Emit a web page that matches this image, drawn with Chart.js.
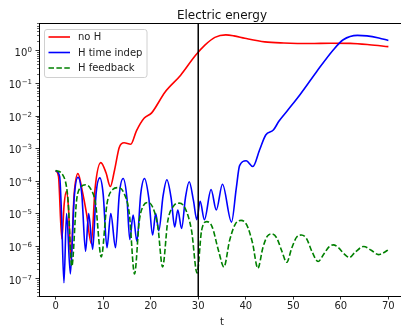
<!DOCTYPE html>
<html>
<head>
<meta charset="utf-8">
<script src="https://cdn.jsdelivr.net/npm/chart.js@4/dist/chart.umd.min.js"></script>
<style>
  html, body { margin: 0; padding: 0; background: #fff; overflow: hidden; }
  canvas { display: block; }
</style>
</head>
<body>
<canvas id="energyChart" width="406" height="325"></canvas>
<script>
// time axis ticks and log-axis decades
var xTicks = [0, 10, 20, 30, 40, 50, 60, 70];
var yDecades = [-7, -6, -5, -4, -3, -2, -1, 0];
var xMin = -3.5, xMax = 73.5;
var yMin = 2.95e-8, yMax = 7.2;
var tMark = 30; // vertical marker

// no H
var tRed = [0, 0.6, 1.3, 1.8, 2.25, 2.7, 3.2, 3.9, 4.7, 5.6, 6.5, 7.5, 8.3, 9.5, 10.6, 11.5, 12.4,
    13.4, 14.4, 15.8, 17.0, 18.6, 20.2, 23.0, 26.3, 29.4, 31.4, 33.5, 35.8, 37.5, 39.8, 44, 48,
    53.5, 58, 62, 66, 70];
var eRed = [2.1e-4, 1.4e-4, 1.7e-6, 2e-5, 4.8e-5, 1.5e-5, 4e-7, 4e-5, 1.7e-4, 5e-5, 1e-5, 1.2e-6, 6e-5,
    3.7e-4, 1.8e-4, 6.8e-5, 2.2e-4, 1.1e-3, 1.5e-3, 1.35e-3, 3.5e-3, 8.5e-3, 1.25e-2, 5.4e-2, 0.18,
    0.72, 1.5, 2.6, 3.1, 2.9, 2.45, 1.9, 1.75, 1.68, 1.72, 1.7, 1.55, 1.35];

// H time indep
var tBlue = [0, 0.84, 1.26, 1.75, 2.3, 3.1, 3.9, 4.7, 5.5, 6.3, 6.95, 7.8, 8.5, 9.3, 10.0, 10.8, 11.6,
    12.6, 13.4, 14.2, 15.0, 15.6, 16.3, 17.1, 17.9, 18.7, 19.6, 20.4, 21.05, 21.7, 22.6, 23.4, 24.3,
    25.05, 25.7, 26.5, 27.3, 28.1, 29.0, 29.7, 30.4, 31.3, 32.7, 33.8, 35.1, 37.0, 38.0, 38.7, 40.1,
    41.5, 42.9, 44.2, 45.8, 47.0, 48.9, 51.4, 54.9, 58.4, 60.5, 63.5, 65.5, 68, 70];
var eBlue = [2.1e-4, 1.4e-4, 8e-6, 7.5e-8, 1e-5, 1.4e-7, 3e-5, 1.3e-4, 4e-5, 7e-7, 1e-5, 8e-7, 4e-5,
    1.26e-4, 4e-5, 9e-7, 1e-5, 9e-7, 4e-5, 1.2e-4, 3e-5, 1.6e-6, 9e-6, 1.4e-6, 4e-5, 1.2e-4, 3e-5,
    2.2e-6, 1e-5, 3e-6, 3.5e-5, 1.1e-4, 3e-5, 3.9e-6, 1.3e-5, 3.5e-6, 3e-5, 9.5e-5, 2.5e-5, 6.5e-6,
    2.4e-5, 6.5e-6, 5.5e-5, 1.3e-5, 8e-5, 5.5e-6, 6e-5, 3e-4, 4.2e-4, 2.8e-4, 9e-4, 2.6e-3, 3.7e-3,
    7e-3, 1.55e-2, 4.5e-2, 0.23, 1.07, 2.2, 3.0, 2.9, 2.5, 2.1];

// H feedback
var tGreen = [0, 1.5, 2.6, 3.4, 4.4, 5.3, 6.3, 7.3, 8.4, 9.6, 10.8, 12.0, 13.1, 14.3, 15.5, 16.6, 17.6,
    18.5, 19.4, 20.4, 21.5, 22.5, 23.6, 24.8, 26.0, 27.2, 28.6, 29.75, 30.7, 31.8, 32.9, 34.3, 35.4,
    36.6, 37.8, 39.0, 40.2, 41.4, 42.55, 43.6, 44.5, 45.5, 46.5, 47.6, 48.6, 49.7, 50.7, 51.7, 52.8,
    53.9, 55.2, 56.5, 57.5, 58.4, 59.5, 60.7, 61.8, 63, 64.8, 66.4, 67.9, 69, 70];
var eGreen = [2.1e-4, 1.55e-4, 2.7e-5, 2.4e-7, 2.5e-5, 6.5e-5, 7.7e-5, 6e-5, 2e-5, 4.7e-7, 2e-5, 5.5e-5,
    6.3e-5, 4.5e-5, 1e-5, 1.4e-7, 6e-6, 1.8e-5, 2.2e-5, 1.6e-5, 4e-6, 2.3e-7, 6e-6, 1.7e-5, 2.1e-5,
    1.5e-5, 3e-6, 1.5e-7, 3e-6, 5.7e-6, 4e-6, 7e-7, 2.3e-7, 1.5e-6, 4.8e-6, 6.2e-6, 4.5e-6, 1.3e-6,
    2.1e-7, 9e-7, 2e-6, 2.4e-6, 1.8e-6, 7e-7, 3.2e-7, 9e-7, 1.9e-6, 2.2e-6, 1.7e-6, 7e-7, 3.4e-7,
    6e-7, 9.5e-7, 1.1e-6, 9e-7, 5.8e-7, 4.5e-7, 6.5e-7, 9.8e-7, 7.5e-7, 5.5e-7, 6.3e-7, 7.8e-7];

function pts(ts, es) {
    return ts.map(function (t, i) { return {x: t, y: es[i]}; });
}

var FONT = "'DejaVu Sans', sans-serif";

// title, axis label, frame, minor ticks, y labels and legend (matplotlib look)
var decor = {
    id: 'decor',
    afterDraw: function (chart) {
        var c = chart.ctx, a = chart.chartArea, y = chart.scales.y;
        c.save();

        c.strokeStyle = '#000';
        c.lineWidth = 1;
        c.strokeRect(Math.round(a.left) + 0.5, Math.round(a.top) + 0.5,
            Math.round(a.right - a.left), Math.round(a.bottom - a.top));

        // minor ticks
        c.lineWidth = 0.6;
        for (var n = -9; n <= 1; n++) {
            for (var k = 2; k <= 9; k++) {
                var v = k * Math.pow(10, n);
                if (v < y.min || v > y.max) continue;
                var py = Math.round(y.getPixelForValue(v)) + 0.5;
                c.beginPath();
                c.moveTo(a.left - 2, py);
                c.lineTo(a.left, py);
                c.stroke();
            }
        }

        // y tick labels 10^n
        c.fillStyle = '#222';
        c.textBaseline = 'alphabetic';
        c.textAlign = 'right';
        yDecades.forEach(function (e) {
            var py = y.getPixelForValue(Math.pow(10, e));
            var sup = e < 0 ? '\u2212' + (-e) : String(e);
            c.font = '7px ' + FONT;
            var ws = c.measureText(sup).width;
            c.fillText(sup, 32, py + 0.8);
            c.font = '10px ' + FONT;
            c.fillText('10', 32 - ws - 0.3, py + 4.8);
        });

        // title and x label
        var cx = (a.left + a.right) / 2;
        c.textAlign = 'center';
        c.fillStyle = '#111';
        c.font = '12px ' + FONT;
        c.fillText('Electric energy', cx, 18.5);
        c.font = '10px ' + FONT;
        c.fillStyle = '#222';
        c.fillText('t', cx, 325);

        // legend
        var lx = 44.5, ly = 29.5, lw = 102.5, lh = 48;
        c.beginPath();
        c.roundRect(lx, ly, lw, lh, 2.5);
        c.fillStyle = 'rgba(255,255,255,0.8)';
        c.fill();
        c.strokeStyle = '#d0d0d0';
        c.lineWidth = 1;
        c.stroke();
        var items = chart.data.datasets.filter(function (d) { return d.label; });
        c.textAlign = 'left';
        c.textBaseline = 'middle';
        c.font = '10px ' + FONT;
        items.forEach(function (d, i) {
            var yy = 37 + i * 15.5;
            c.strokeStyle = d.borderColor;
            c.lineWidth = d.borderWidth;
            c.setLineDash(d.borderDash || []);
            c.beginPath();
            c.moveTo(48.5, yy);
            c.lineTo(70, yy);
            c.stroke();
            c.setLineDash([]);
            c.fillStyle = '#222';
            c.fillText(d.label, 78, yy + 0.5);
        });
        c.restore();
    }
};

var ctx = document.getElementById('energyChart').getContext('2d');

var energyChart = new Chart(ctx, {
    type: 'line',
    data: {
        datasets: [{
            label: 'no H',
            data: pts(tRed, eRed),
            borderColor: '#ff0000',
            borderWidth: 1.6,
            order: 3
        }, {
            label: 'H time indep',
            data: pts(tBlue, eBlue),
            borderColor: '#0000ff',
            borderWidth: 1.6,
            order: 2
        }, {
            label: 'H feedback',
            data: pts(tGreen, eGreen),
            borderColor: '#008000',
            borderWidth: 1.6,
            borderDash: [5.5, 2.4],
            order: 1
        }, {
            label: '',
            data: [{x: tMark, y: yMin}, {x: tMark, y: yMax}],
            borderColor: '#000',
            borderWidth: 1.5,
            cubicInterpolationMode: 'default',
            tension: 0,
            order: 0
        }]
    },
    options: {
        responsive: false,
        animation: false,
        devicePixelRatio: 1,
        layout: { padding: { top: 23, right: 1, left: 0, bottom: 0 } },
        elements: {
            point: { radius: 0 },
            line: { cubicInterpolationMode: 'monotone', fill: false }
        },
        plugins: {
            legend: { display: false },
            title: { display: false },
            tooltip: { enabled: false }
        },
        scales: {
            x: {
                type: 'linear',
                min: xMin,
                max: xMax,
                afterBuildTicks: function (scale) {
                    scale.ticks = xTicks.map(function (v) { return {value: v}; });
                },
                afterFit: function (scale) { scale.height = 29; },
                ticks: {
                    callback: function (v) { return String(v); },
                    font: { family: FONT, size: 10 },
                    color: '#222',
                    padding: 1,
                    maxRotation: 0
                },
                grid: {
                    drawOnChartArea: false,
                    drawTicks: true,
                    tickLength: 3.5,
                    color: '#000',
                    lineWidth: 0.8
                },
                border: { display: false }
            },
            y: {
                type: 'logarithmic',
                min: yMin,
                max: yMax,
                afterBuildTicks: function (scale) {
                    scale.ticks = yDecades.map(function (e) { return {value: Math.pow(10, e)}; });
                },
                afterFit: function (scale) { scale.width = 39; },
                ticks: {
                    callback: function () { return ''; },
                    padding: 0
                },
                grid: {
                    drawOnChartArea: false,
                    drawTicks: true,
                    tickLength: 3.5,
                    color: '#000',
                    lineWidth: 0.8
                },
                border: { display: false }
            }
        }
    },
    plugins: [decor]
});
</script>
</body>
</html>
